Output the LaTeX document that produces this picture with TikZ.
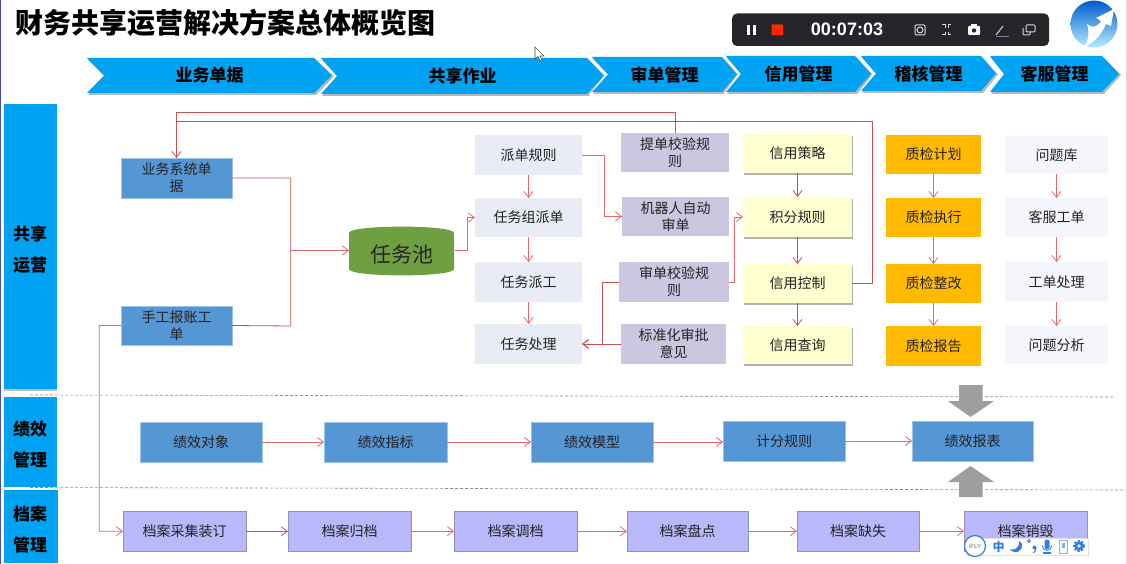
\documentclass[tikz,border=0pt]{standalone}
\usepackage{fontspec}
\setmainfont{Noto Sans CJK SC}
\newfontfamily\latinfont{Liberation Sans}
\usetikzlibrary{arrows.meta,shadows}
\definecolor{cyanbar}{HTML}{00A2F2}
\definecolor{bluebox}{HTML}{5596D5}
\definecolor{bluerim}{HTML}{9CC3E8}
\definecolor{palebox}{HTML}{E9EBF5}
\definecolor{lilacbox}{HTML}{CCC6E0}
\definecolor{yellowbox}{HTML}{FFFFCF}
\definecolor{orangebox}{HTML}{FFBA00}
\definecolor{ghostbox}{HTML}{F4F6FB}
\definecolor{violetbox}{HTML}{B9B8FB}
\definecolor{violetrim}{HTML}{9094B4}
\definecolor{poolgreen}{HTML}{6E9F40}
\definecolor{redline}{HTML}{C5504F}
\definecolor{redsoft}{HTML}{E2686A}
\definecolor{barblack}{HTML}{25262A}
\definecolor{iflyblue}{HTML}{2E80E8}
\definecolor{inktext}{HTML}{222222}
\tikzset{
  base/.style={inner sep=0pt,outer sep=0pt,align=center,text=inktext,font=\fontsize{14}{17}\selectfont},
  bluecard/.style={base,fill=bluebox,draw=bluerim,line width=.5pt},
  palecard/.style={base,fill=palebox},
  lilaccard/.style={base,fill=lilacbox},
  yellowcard/.style={base,fill=yellowbox,general shadow={shadow xshift=.5pt,shadow yshift=-2pt,fill=black!55,opacity=.55}},
  orangecard/.style={base,fill=orangebox},
  ghostcard/.style={base,fill=ghostbox},
  violetcard/.style={base,fill=violetbox,draw=violetrim,line width=.7pt},
  sidebar/.style={inner sep=0pt,outer sep=0pt,fill=cyanbar},
  sidelabel/.style={inner sep=0pt,align=center,text=black,font=\fontsize{17}{31}\selectfont\bfseries},
  headlabel/.style={inner sep=0pt,text=black,font=\fontsize{17}{20}\selectfont\bfseries},
  conn/.style={draw=redline,line width=.8pt},
  lead/.style={draw=redsoft,line width=.8pt,-{Straight Barb[length=6pt,width=9pt]}},
  leaddark/.style={draw=redline,line width=.8pt,-{Straight Barb[length=6pt,width=9pt]}},
  divider/.style={draw=black!45,line width=.6pt,dash pattern=on 3pt off 2pt},
  bigarrow/.style={fill=black!38},
  toolicon/.style={draw=white!85!black,line width=1pt},
  iflyicon/.style={fill=iflyblue}
}
\newcommand{\mycard}[7]{%
  \pgfmathsetmacro\mycx{(#3+#5)/2}\pgfmathsetmacro\mycy{(#4+#6)/2}%
  \pgfmathsetmacro\myw{#5-#3}\pgfmathsetmacro\myh{#6-#4}%
  \node[#2,minimum width=\myw pt,minimum height=\myh pt] (#1) at (\mycx,\mycy) {#7};}
% name, x-left, x-notch, x-topright, x-tip, y-top, y-bottom, text
\newcommand{\mychevron}[8]{%
  \pgfmathsetmacro\mymid{(#6+#7)/2}%
  \fill[white] (#2-3,#6-1) -- (#4,#6-1) -- (#5+4,\mymid) -- (#4,#7+3) -- (#2-3,#7+3) -- (#3-3,\mymid) -- cycle;
  \fill[black!28] (#2+1,#6+2) -- (#4+2,#6+2) -- (#5+2,\mymid+1) -- (#4+2,#7+2) -- (#2+1,#7+2) -- (#3+1,\mymid+1) -- cycle;
  \fill[cyanbar] (#2,#6) -- (#4,#6) -- (#5,\mymid) -- (#4,#7) -- (#2,#7) -- (#3,\mymid) -- cycle;
  \pgfmathsetmacro\mytx{(#2+#5)/2}%
  \node[headlabel] (#1) at (\mytx,\mymid) {#8};}
\begin{document}
\begin{tikzpicture}[x=1pt,y=-1pt]
\useasboundingbox (0,0) rectangle (1127,564);
\fill[white] (0,0) rectangle (1127,564);
\fill[blue!60!black!70] (0,0) rectangle (1.2,564);
\fill[black!15] (1125.8,0) rectangle (1127,564);

% title
\node[inner sep=0pt,anchor=west,text=black,font=\fontsize{28}{32}\selectfont\bfseries] (title) at (15,23) {财务共享运营解决方案总体概览图};

% header chevrons
\mychevron{h1}{87}{104}{314}{332}{58}{93}{业务单据}
\mychevron{h2}{321}{337}{587}{604}{58}{94}{共享作业}
\mychevron{h3}{592}{608}{722}{737}{57}{92}{审单管理}
\mychevron{h4}{726}{741}{855}{871}{56}{92}{信用管理}
\mychevron{h5}{861}{876}{981}{996}{56}{91}{稽核管理}
\mychevron{h6}{990}{1004}{1102}{1119}{56}{92}{客服管理}

% side bars
\fill[black!25] (4,106) rectangle (57,391);
\mycard{s1}{sidebar}{3.5}{104}{57}{389}{}
\mycard{s2}{sidebar}{3.5}{397}{57}{487}{}
\mycard{s3}{sidebar}{3.5}{490}{58}{563}{}
\node[sidelabel] (s1t) at (30,249.5) {共享\\运营};
\node[sidelabel] (s2t) at (30,445) {绩效\\管理};
\node[sidelabel] (s3t) at (30,529.5) {档案\\管理};

% dividers
\coordinate (d1a) at (30,395);\coordinate (d1b) at (1115,397);
\coordinate (d2a) at (30,487.5);\coordinate (d2b) at (1125,490);
\draw[divider] (d1a) -- (d1b);
\draw[divider] (d2a) -- (d2b);

% source
\mycard{ys}{bluecard}{121}{158}{232}{198}{业务系统单\\据}
\mycard{sg}{bluecard}{121}{306}{232}{345}{手工报账工\\单}

% pool
\fill[poolgreen] (349,233) .. controls (349,224.5) and (454,224.5) .. (454,233) -- (454,269) .. controls (454,277.5) and (349,277.5) .. (349,269) -- cycle;
\node[inner sep=0pt,minimum width=105pt,minimum height=48pt,text=black!85,font=\fontsize{21}{26}\selectfont] (pool) at (401.5,254.5) {任务池};
\coordinate (poolout) at (455,250.5);
\coordinate (poolin) at (349,250.5);

% dispatch column
\mycard{p1}{palecard}{475}{135}{582}{175}{派单规则}
\mycard{p2}{palecard}{475}{198}{582}{237}{任务组派单}
\mycard{p3}{palecard}{475}{262}{582}{302}{任务派工}
\mycard{p4}{palecard}{475}{324}{582}{364}{任务处理}

% audit column
\mycard{a1}{lilaccard}{621}{133}{729}{172}{提单校验规\\则}
\mycard{a2}{lilaccard}{622}{197}{729}{236}{机器人自动\\审单}
\mycard{a3}{lilaccard}{619}{262}{729}{302}{审单校验规\\则}
\mycard{a4}{lilaccard}{621}{324}{726}{364}{标准化审批\\意见}

% credit column
\mycard{c1}{yellowcard}{743}{134}{852}{173}{信用策略}
\mycard{c2}{yellowcard}{743}{197}{852}{237}{积分规则}
\mycard{c3}{yellowcard}{743}{264}{852}{303}{信用控制}
\mycard{c4}{yellowcard}{743}{326}{852}{364}{信用查询}

% check column
\mycard{q1}{orangecard}{886}{135}{981}{174}{质检计划}
\mycard{q2}{orangecard}{886}{198}{981}{237}{质检执行}
\mycard{q3}{orangecard}{886}{264}{981}{303}{质检整改}
\mycard{q4}{orangecard}{886}{326}{981}{366}{质检报告}

% service column
\mycard{k1}{ghostcard}{1005}{136}{1108}{174}{问题库}
\mycard{k2}{ghostcard}{1005}{198}{1108}{237}{客服工单}
\mycard{k3}{ghostcard}{1005}{262}{1108}{302}{工单处理}
\mycard{k4}{ghostcard}{1005}{326}{1108}{364}{问题分析}

% performance row
\mycard{j1}{bluecard}{140}{422}{262}{462}{绩效对象}
\mycard{j2}{bluecard}{324}{422}{447}{462}{绩效指标}
\mycard{j3}{bluecard}{531}{422}{653}{462}{绩效模型}
\mycard{j4}{bluecard}{723}{421}{845}{461}{计分规则}
\mycard{j5}{bluecard}{912}{421}{1033}{461}{绩效报表}

% archive row
\mycard{d1}{violetcard}{123}{511.5}{246}{551}{档案采集装订}
\mycard{d2}{violetcard}{288}{511.5}{411}{551}{档案归档}
\mycard{d3}{violetcard}{454}{511.5}{577}{551}{档案调档}
\mycard{d4}{violetcard}{627}{511.5}{748}{551}{档案盘点}
\mycard{d5}{violetcard}{797}{511.5}{919}{551}{档案缺失}
\mycard{d6}{violetcard}{964}{511.5}{1087}{551}{档案销毁}

% big grey arrows
\fill[bigarrow] (959,385) -- (982.5,385) -- (982.5,401) -- (994,401) -- (970.5,417) -- (948,401) -- (959,401) -- cycle;
\fill[bigarrow] (970.5,466) -- (994,482) -- (982.5,482) -- (982.5,497) -- (959,497) -- (959,482) -- (948,482) -- cycle;

% connectors: feedback
\draw[conn] (a1.north) -- ++(0,-20.5) -| (ys.north);
\draw[leaddark] (c3.east) -| (872.5,121.5) -- (176.5,121.5) -- (ys.north);

% connectors: intake
\draw[conn] (ys.east) -| (290.7,326) -- (sg.east);
\coordinate (busjoin) at (290.7,250.5);
\draw[lead] (busjoin) -- (poolin);
\draw[lead] (poolout) -- (467,250.5) |- (p2.west);

% dispatch
\draw[lead] (p1.south) -- (p2.north);
\draw[lead] (p2.south) -- (p3.north);
\draw[lead] (p3.south) -- (p4.north);
\draw[lead] (p1.east) -- (604,155) |- (a2.west);
\draw[leaddark] (a3.west) -- (602,282) |- (p4.east);
\draw[leaddark] (a4.west) -- (p4.east);
\draw[lead] (a3.east) -- (734,282) |- (c2.west);

% credit
\draw[leaddark] (c1.south) -- (c2.north);
\draw[leaddark] (c2.south) -- (c3.north);
\draw[leaddark] (c3.south) -- (c4.north);

% check
\draw[lead] (q1.south) -- (q2.north);
\draw[lead] (q2.south) -- (q3.north);
\draw[lead] (q3.south) -- (q4.north);

% service
\draw[lead] (k1.south) -- (k2.north);
\draw[lead] (k2.south) -- (k3.north);
\draw[lead] (k3.south) -- (k4.north);

% performance
\draw[lead] (j1.east) -- (j2.west);
\draw[lead] (j2.east) -- (j3.west);
\draw[lead] (j3.east) -- (j4.west |- j3.east);
\draw[lead] (j4.east) -- (j5.west);

% archive
\draw[lead] (sg.west) -| (99.3,531.2) -- (d1.west);
\draw[leaddark] (d1.east) -- (d2.west);
\draw[lead] (d2.east) -- (d3.west);
\draw[lead] (d3.east) -- (d4.west);
\draw[lead] (d4.east) -- (d5.west);
\draw[lead] (d5.east) -- (d6.west);

% mouse pointer
\draw[black!70,fill=white,line width=.6pt] (535,47) -- (535,59) -- (538,56.5) -- (540,61) -- (542,60) -- (540,56) -- (544,56) -- cycle;

% recorder bar
\fill[barblack,rounded corners=5pt] (732,13.5) rectangle (1049,46);
\fill[white] (747,25) rectangle (750,35);
\fill[white] (753,25) rectangle (756,35);
\fill[red!70!orange,rounded corners=1pt] (771.5,24.5) rectangle (783,35.5);
\node[inner sep=0pt,text=white,font=\fontsize{18}{20}\selectfont\latinfont\bfseries] (clock) at (847,29.5) {00:07:03};
\draw[toolicon,rounded corners=1pt] (915,25) rectangle (925,35);
\draw[toolicon] (920,30) circle (3);
\draw[toolicon] (942,25) -- (945,25) -- (945,28) (951,25) -- (948,25) -- (948,28) (942,35) -- (945,35) -- (945,32) (951,35) -- (948,35) -- (948,32);
\fill[white,rounded corners=1pt] (968,26) rectangle (980,35);
\fill[white] (971,24.5) rectangle (977,27);
\fill[barblack] (974,30.5) circle (2.2);
\draw[toolicon] (996,35) -- (1003,26);
\draw[black!50,line width=.8pt] (996,36) -- (1009,36);
\draw[toolicon,rounded corners=1pt] (1026,25) rectangle (1035,32);
\draw[toolicon,rounded corners=1pt] (1023,28) -- (1023,35) -- (1030,35) -- (1030,32);

% logo
\shade[top color=blue!55!cyan!80!black,bottom color=blue!25!cyan!30] (1094,24) circle (23.5);
\fill[white] (1084,47) .. controls (1097,42) and (1103,31) .. (1106,24) -- (1111,26) -- (1114,9) -- (1096,18) -- (1101,21) .. controls (1097,28) and (1091,28) .. (1087,24) .. controls (1090,33) and (1088,41) .. (1084,47) -- cycle;

% input-method bar
\fill[white] (966,538) rectangle (1088,555);
\draw[black!12,line width=.5pt] (966,538) rectangle (1088,555);
\draw[iflyblue,fill=white,line width=1.2pt] (975,546) circle (10.5);
\node[inner sep=0pt,text=black!40,font=\fontsize{6}{7}\selectfont\latinfont\bfseries] (ifly) at (975,546) {iFLY};
\node[inner sep=0pt,text=iflyblue,font=\fontsize{12}{14}\selectfont\bfseries] (imezh) at (998.7,546.5) {中};
\fill[iflyicon] (1019,541) .. controls (1020,548) and (1014,551) .. (1010,549) .. controls (1014,555) and (1023,552) .. (1022,544) -- cycle;
\draw[iflyblue,line width=.8pt] (1029,541) circle (1.5);
\fill[iflyicon] (1034.5,547.5) circle (2);
\draw[iflyblue,line width=1pt] (1036,548) .. controls (1036,550) and (1035,552) .. (1033,553);
\fill[iflyicon,rounded corners=2pt] (1044.5,539.5) rectangle (1049.5,549);
\draw[iflyblue,line width=.9pt] (1042.5,545.5) .. controls (1043,552) and (1051,552) .. (1051.5,545.5);
\fill[iflyicon] (1043,552) rectangle (1051,553.5);
\draw[iflyblue!60,line width=.9pt] (1059,540) rectangle (1067,553);
\fill[iflyblue!60] (1061.5,543) rectangle (1064.5,548);
\draw[iflyblue,line width=2pt,dash pattern=on 2pt off 1.6pt] (1079,546) circle (5);
\fill[iflyicon] (1079,546) circle (4.6);
\fill[white] (1079,546) circle (1.8);
\end{tikzpicture}
\end{document}
